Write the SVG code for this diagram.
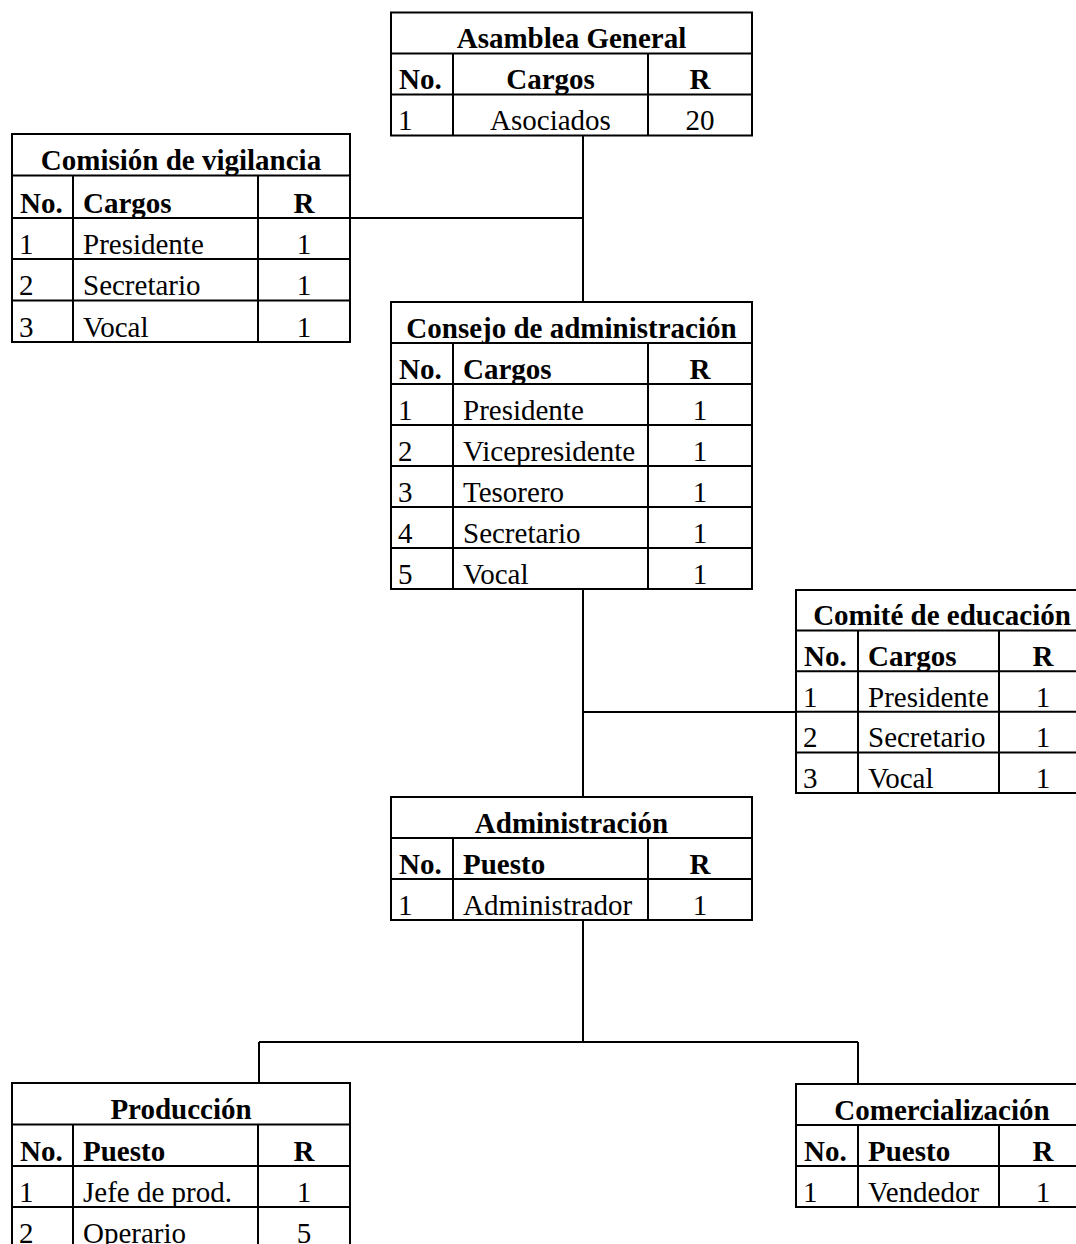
<svg xmlns="http://www.w3.org/2000/svg" width="1076" height="1244" viewBox="0 0 1076 1244">
<style>
.box{fill:#fff;stroke:#000;stroke-width:2}
.ln{fill:none;stroke:#000;stroke-width:2}
.con{fill:none;stroke:#000;stroke-width:2}
text{font-family:"Liberation Serif","Times New Roman",serif;font-size:29px;fill:#000}
.b{font-weight:bold}
.m{text-anchor:middle}
</style>
<rect width="1076" height="1244" fill="#fff"/>
<g id="connectors">
<path class="con" d="M583 135.5V302M350 218H583"/>
<path class="con" d="M583 589V797M583 712H796"/>
<path class="con" d="M583 920V1042M259 1042H858M259 1042V1083M858 1042V1084"/>
</g>
<g id="asamblea-general">
<rect class="box" x="391" y="12.5" width="361" height="123"/>
<path class="ln" d="M391 53.5H752M391 94.5H752M453 53.5V135.5M648 53.5V135.5"/>
<text class="b m" x="571.5" y="47.5">Asamblea General</text>
<text class="b" x="399" y="88.5">No.</text>
<text class="b m" x="550.5" y="88.5">Cargos</text>
<text class="b m" x="700" y="88.5">R</text>
<text x="398" y="129.5">1</text>
<text class="m" x="550.5" y="129.5">Asociados</text>
<text class="m" x="700" y="129.5">20</text>
</g>
<g id="comision-vigilancia">
<rect class="box" x="12" y="134" width="338" height="208"/>
<path class="ln" d="M12 175.5H350M12 218H350M12 259H350M12 300.5H350M73 175.5V342M258 175.5V342"/>
<text class="b m" x="181" y="169.5">Comisión de vigilancia</text>
<text class="b" x="20" y="212.5">No.</text>
<text class="b" x="83" y="212.5">Cargos</text>
<text class="b m" x="304" y="212.5">R</text>
<text x="19" y="253.5">1</text>
<text x="83" y="253.5">Presidente</text>
<text class="m" x="304" y="253.5">1</text>
<text x="19" y="295">2</text>
<text x="83" y="295">Secretario</text>
<text class="m" x="304" y="295">1</text>
<text x="19" y="336.5">3</text>
<text x="83" y="336.5">Vocal</text>
<text class="m" x="304" y="336.5">1</text>
</g>
<g id="consejo-administracion">
<rect class="box" x="391" y="302" width="361" height="287"/>
<path class="ln" d="M391 343H752M391 384H752M391 425H752M391 466H752M391 507H752M391 548H752M453 343V589M648 343V589"/>
<text class="b m" x="571.5" y="337.5">Consejo de administración</text>
<text class="b" x="399" y="378.5">No.</text>
<text class="b" x="463" y="378.5">Cargos</text>
<text class="b m" x="700" y="378.5">R</text>
<text x="398" y="419.5">1</text>
<text x="463" y="419.5">Presidente</text>
<text class="m" x="700" y="419.5">1</text>
<text x="398" y="460.5">2</text>
<text x="463" y="460.5">Vicepresidente</text>
<text class="m" x="700" y="460.5">1</text>
<text x="398" y="501.5">3</text>
<text x="463" y="501.5">Tesorero</text>
<text class="m" x="700" y="501.5">1</text>
<text x="398" y="542.5">4</text>
<text x="463" y="542.5">Secretario</text>
<text class="m" x="700" y="542.5">1</text>
<text x="398" y="583.5">5</text>
<text x="463" y="583.5">Vocal</text>
<text class="m" x="700" y="583.5">1</text>
</g>
<g id="comite-educacion">
<rect class="box" x="796" y="590" width="292" height="203"/>
<path class="ln" d="M796 630.6H1088M796 671.2H1088M796 711.8H1088M796 752.4H1088M858 630.6V793M999 630.6V793"/>
<text class="b m" x="942" y="625">Comité de educación</text>
<text class="b" x="804" y="665.5">No.</text>
<text class="b" x="868" y="665.5">Cargos</text>
<text class="b m" x="1043" y="665.5">R</text>
<text x="803" y="706.5">1</text>
<text x="868" y="706.5">Presidente</text>
<text class="m" x="1043" y="706.5">1</text>
<text x="803" y="747">2</text>
<text x="868" y="747">Secretario</text>
<text class="m" x="1043" y="747">1</text>
<text x="803" y="787.5">3</text>
<text x="868" y="787.5">Vocal</text>
<text class="m" x="1043" y="787.5">1</text>
</g>
<g id="administracion">
<rect class="box" x="391" y="797" width="361" height="123"/>
<path class="ln" d="M391 838H752M391 879H752M453 838V920M648 838V920"/>
<text class="b m" x="571.5" y="832.5">Administración</text>
<text class="b" x="399" y="873.5">No.</text>
<text class="b" x="463" y="873.5">Puesto</text>
<text class="b m" x="700" y="873.5">R</text>
<text x="398" y="914.5">1</text>
<text x="463" y="914.5">Administrador</text>
<text class="m" x="700" y="914.5">1</text>
</g>
<g id="produccion">
<rect class="box" x="12" y="1083" width="338" height="165"/>
<path class="ln" d="M12 1124.5H350M12 1166H350M12 1207H350M73 1124.5V1248M258 1124.5V1248"/>
<text class="b m" x="181" y="1118.5">Producción</text>
<text class="b" x="20" y="1160.5">No.</text>
<text class="b" x="83" y="1160.5">Puesto</text>
<text class="b m" x="304" y="1160.5">R</text>
<text x="19" y="1201.5">1</text>
<text x="83" y="1201.5">Jefe de prod.</text>
<text class="m" x="304" y="1201.5">1</text>
<text x="19" y="1242.5">2</text>
<text x="83" y="1242.5">Operario</text>
<text class="m" x="304" y="1242.5">5</text>
</g>
<g id="comercializacion">
<rect class="box" x="796" y="1084" width="292" height="123"/>
<path class="ln" d="M796 1125H1088M796 1166H1088M858 1125V1207M999 1125V1207"/>
<text class="b m" x="942" y="1119.5">Comercialización</text>
<text class="b" x="804" y="1160.5">No.</text>
<text class="b" x="868" y="1160.5">Puesto</text>
<text class="b m" x="1043" y="1160.5">R</text>
<text x="803" y="1201.5">1</text>
<text x="868" y="1201.5">Vendedor</text>
<text class="m" x="1043" y="1201.5">1</text>
</g>
</svg>
